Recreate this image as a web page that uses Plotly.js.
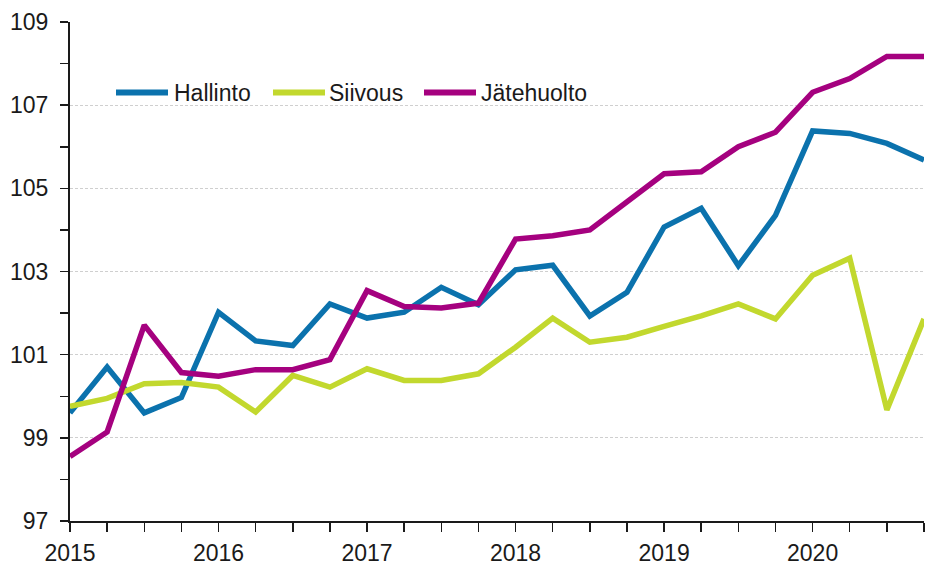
<!DOCTYPE html>
<html>
<head>
<meta charset="utf-8">
<script src="https://cdn.plot.ly/plotly-3.0.1.min.js"></script>
<style>
  html, body { margin: 0; padding: 0; background: #fff; }
  #chart { width: 933px; height: 575px; }
</style>
</head>
<body>
<div id="chart"></div>
<script>
// Quarters 2015Q1 .. 2020Q4
const quarters = [
  "2015Q1","2015Q2","2015Q3","2015Q4",
  "2016Q1","2016Q2","2016Q3","2016Q4",
  "2017Q1","2017Q2","2017Q3","2017Q4",
  "2018Q1","2018Q2","2018Q3","2018Q4",
  "2019Q1","2019Q2","2019Q3","2019Q4",
  "2020Q1","2020Q2","2020Q3","2020Q4"
];
const xTickLabels = [
  "2015","","","",
  "2016","","","",
  "2017","","","",
  "2018","","","",
  "2019","","","",
  "2020","","",""
];
const seriesNames = ["Hallinto", "Siivous", "Jätehuolto"];
const hallinto = [
  99.6, 100.7, 99.6, 99.97,
  102.02, 101.33, 101.22, 102.22,
  101.88, 102.02, 102.62, 102.2,
  103.04, 103.15, 101.93, 102.5,
  104.07, 104.52, 103.14, 104.35,
  106.38, 106.32, 106.08, 105.68
];
const siivous = [
  99.76, 99.95, 100.3, 100.33,
  100.22, 99.62, 100.5, 100.22,
  100.66, 100.38, 100.38, 100.54,
  101.18, 101.88, 101.3, 101.42,
  101.68, 101.93, 102.22, 101.86,
  102.91, 103.32, 99.67, 101.86
];
const jatehuolto = [
  98.55, 99.14, 101.71, 100.57,
  100.48, 100.64, 100.64, 100.88,
  102.54, 102.16, 102.12, 102.24,
  103.78, 103.86, 104.0, 104.66,
  105.35, 105.4, 106.0, 106.35,
  107.31, 107.64, 108.17, 108.17
];
const yTicks = [97, 99, 101, 103, 105, 107, 109];

const colors = ["#0b72ad", "#c2d82e", "#a5017f"];
const values = [hallinto, siivous, jatehuolto];

const traces = seriesNames.map((name, k) => ({
  type: "scatter",
  mode: "lines",
  name: name,
  x: quarters,
  y: values[k],
  line: { color: colors[k], width: 5.5, shape: "linear" },
  showlegend: false,
  hoverinfo: "x+y+name"
}));

// Manual legend (pixel positions converted to paper coords)
const plotL = 70, plotR = 924, plotT = 21.5, plotB = 521;
const px = v => (v - plotL) / (plotR - plotL);
const py = v => (plotB - v) / (plotB - plotT);
const legendItems = [
  { x0: 116, x1: 168, tx: 172 },
  { x0: 273, x1: 325, tx: 327 },
  { x0: 424, x1: 476, tx: 479 }
];
const legendY = 92;
const shapes = legendItems.map((it, k) => ({
  type: "line", xref: "paper", yref: "paper",
  x0: px(it.x0), x1: px(it.x1), y0: py(legendY), y1: py(legendY),
  line: { color: colors[k], width: 6 }
}));
const annotations = legendItems.map((it, k) => ({
  xref: "paper", yref: "paper",
  x: px(it.tx), y: py(legendY + 1),
  xanchor: "left", yanchor: "middle",
  text: seriesNames[k], showarrow: false,
  font: { family: "Liberation Sans, Arial, sans-serif", size: 23, color: "#1a1a1a" }
}));

const layout = {
  width: 933, height: 575,
  margin: { l: 70, r: 9, t: 21.5, b: 54, pad: 0 },
  paper_bgcolor: "#ffffff",
  plot_bgcolor: "#ffffff",
  font: { family: "Liberation Sans, Arial, sans-serif", size: 23, color: "#1a1a1a" },
  showlegend: false,
  xaxis: {
    type: "category",
    range: [0, quarters.length - 1],
    tickmode: "array",
    tickvals: quarters,
    ticktext: xTickLabels,
    ticks: "outside",
    ticklen: 9,
    tickwidth: 1.5,
    tickcolor: "#1a1a1a",
    showgrid: false,
    showline: true,
    linecolor: "#1a1a1a",
    linewidth: 2,
    zeroline: false,
    ticklabelstandoff: 1,
    tickfont: { size: 23 }
  },
  yaxis: {
    range: [97, 109],
    tickmode: "array",
    tickvals: yTicks,
    ticktext: yTicks.map(String),
    ticks: "outside",
    ticklen: 8,
    tickwidth: 1.5,
    tickcolor: "#1a1a1a",
    minor: { dtick: 1, tick0: 97, ticks: "outside", ticklen: 8, tickwidth: 1.5, tickcolor: "#1a1a1a", showgrid: false },
    showgrid: true,
    gridcolor: "#cfcfcf",
    gridwidth: 1,
    griddash: "3px,2px",
    showline: true,
    linecolor: "#1a1a1a",
    linewidth: 2,
    zeroline: false,
    ticklabelstandoff: 7,
    tickfont: { size: 23 }
  },
  shapes: shapes,
  annotations: annotations
};

Plotly.newPlot("chart", traces, layout, { staticPlot: true, displayModeBar: false });
</script>
</body>
</html>
